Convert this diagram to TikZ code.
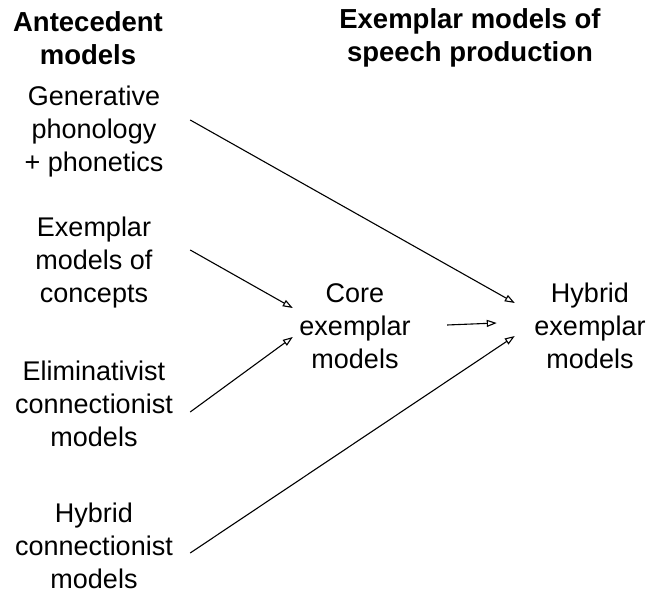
\documentclass[tikz,border=0pt]{standalone}
\usepackage{fontspec}
\setmainfont{Liberation Sans}
\usetikzlibrary{arrows.meta,positioning}

\tikzset{
  txt/.style={align=center,inner sep=0pt,font=\fontsize{27}{33}\selectfont},
  head/.style={txt,font=\fontsize{27.5}{33}\selectfont\bfseries},
  src/.style={txt,minimum width=192pt},
  arr/.style={-{Triangle[open,length=10pt,width=7pt]},line width=1.1pt}
}

\begin{document}
\begin{tikzpicture}[x=1pt,y=1pt]
  \useasboundingbox (0,0) rectangle (656,596);

  % column headings
  \node[head] (hAnte) at (88,558) {Antecedent\\models};
  \node[head] (hExem) at (470,558) {Exemplar models of\\speech production};

  % antecedent models
  \node[src] (gen)  at (94,464) {Generative\\phonology\\+ phonetics};
  \node[src] (conc) at (94,333) {Exemplar\\models of\\concepts};
  \node[src] (elim) at (94,192) {Eliminativist\\connectionist\\models};
  \node[src] (hcon) at (94,50)  {Hybrid\\connectionist\\models};

  % exemplar models
  \node[txt,minimum width=124pt] (core) at (355,270) {Core\\exemplar\\models};
  \node[txt,minimum width=150pt] (hyb)  at (590,270) {Hybrid\\exemplar\\models};

  \draw[arr] ([yshift=12pt]gen.east)  -- ([yshift=23pt]hyb.west);
  \draw[arr] ([yshift=13pt]conc.east) -- ([yshift=18pt]core.west);
  \draw[arr] ([yshift=-8pt]elim.east) -- ([yshift=-11pt]core.west);
  \draw[arr] ([yshift=-7pt]hcon.east) -- ([yshift=-10pt]hyb.west);
  \draw[arr] ([xshift=30pt,yshift=1pt]core.east) -- ([xshift=-18pt,yshift=3pt]hyb.west);
\end{tikzpicture}
\end{document}
